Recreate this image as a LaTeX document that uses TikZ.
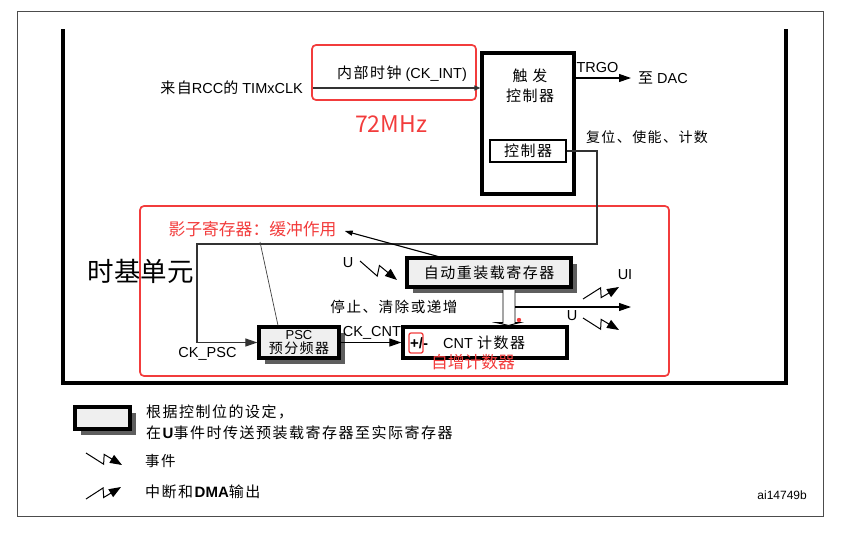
\documentclass[tikz,border=0pt]{standalone}
\usepackage{fontspec}
\setmainfont{Liberation Sans}
\newfontfamily\cjk[LetterSpace=10]{Noto Sans CJK SC}
\newfontfamily\cjkn{Noto Sans CJK SC}
\usetikzlibrary{arrows.meta,calc,shadows}
\definecolor{redmark}{HTML}{F23C3C}
\definecolor{shade}{HTML}{5E5E5E}
\definecolor{boxfill}{HTML}{EFEFEF}
\definecolor{linegray}{HTML}{333333}
\newcommand\sz[2]{\fontsize{#1}{#2}\selectfont}
\begin{document}
\begin{tikzpicture}[x=1pt,y=-1pt,
  regbox/.style={draw, line width=3.2pt, fill=boxfill, inner sep=0pt,
    drop shadow={shadow xshift=6pt, shadow yshift=-6pt, fill=shade, opacity=1}},
  plainbox/.style={draw, line width=3.2pt, fill=white, inner sep=0pt},
  redframe/.style={draw=redmark, line width=1.7pt, rounded corners=4pt},
  lbl/.style={inner sep=0pt, font=\sz{14.5}{17}},
  redlbl/.style={inner sep=0pt, text=redmark},
  conn/.style={draw=linegray, line width=1.1pt},
  arr/.style={conn, -{Triangle[length=12pt,width=8pt]}},
  bolt/.style={draw=black, line width=1pt, line join=miter, -{Triangle[length=12pt,width=9pt]}}]
\useasboundingbox (0,0) rectangle (841,536);

% outer frame and thick U frame
\draw[draw=black!70, line width=1pt] (17,11) rectangle (823,516);
\draw[line width=3.2pt, line join=miter] (63,29) -- (63,383) -- (786,383) -- (786,29);

% boxes
\node[plainbox, minimum width=92pt, minimum height=141pt] (trig) at (528,123.5) {};
\node[lbl, align=center, font=\sz{15}{20}] (trigtxt) at (530,86) {{\cjk 触 发}\\{\cjk 控制器}};
\node[plainbox, line width=2.6pt, minimum width=76pt, minimum height=22pt, font=\sz{15}{17}] (ctrl) at (528,151) {{\cjk 控制器}};
\node[regbox, minimum width=164pt, minimum height=29pt, font=\sz{15}{17}] (reload) at (489,272.5) {{\cjk 自动重装载寄存器}};
\node[plainbox, minimum width=164pt, minimum height=31pt] (cnt) at (485,342.5) {};
\node[regbox, minimum width=80pt, minimum height=31pt, align=center, font=\sz{13}{13.5}] (psc) at (299,342.5) {PSC\\{\cjk\sz{14}{13.5}预分频器}};
\node[regbox, minimum width=55pt, minimum height=22pt] (leg) at (102.5,418) {};

% text labels
\node[lbl, anchor=east] (timx) at (303,88) {{\cjk\sz{15}{17}来自}RCC{\cjk\sz{15}{17}的} TIMxCLK};
\node[lbl] (ckint) at (402,74) {{\cjk\sz{15}{17}内部时钟} (CK\_INT)};
\node[redlbl, font=\cjkn\sz{23}{26}] (mhz) at (391,124) {72MHz};
\node[lbl] (trgo) at (597.5,68) {TRGO};
\node[lbl, anchor=west] (dac) at (638,78) {{\cjk\sz{15}{17}至} DAC};
\node[lbl, font=\sz{14}{17}] (rst) at (647,137) {{\cjk 复位、使能、计数}};
\node[redlbl, font=\cjkn\sz{16.8}{20}] (shadowtxt) at (252.5,229) {影子寄存器：缓冲作用};
\node[inner sep=0pt, font=\cjkn\sz{26.5}{30}] (tb) at (140.5,271) {时基单元};
\node[lbl] (u1) at (348,263) {U};
\node[lbl, font=\sz{14.6}{17}] (stop) at (394,307) {{\cjk 停止、清除或递增}};
\node[lbl] (ui) at (625,275) {UI};
\node[lbl] (u2) at (572,316) {U};
\node[lbl] (ckpsc) at (207.5,354) {CK\_PSC};
\node[lbl] (ckcnt) at (372,333) {CK\_CNT};
\node[lbl, anchor=west, font=\bfseries\sz{15}{16}] (pm) at (410,343) {+/-};
\node[lbl, anchor=west] (cnttxt) at (443,343) {CNT {\cjk\sz{15}{17}计数器}};
\node[redlbl, font=\cjkn\sz{16.8}{20}] (inc) at (473,362) {自增计数器};
\node[lbl, anchor=west, align=left, font=\sz{15}{21}] (legtxt) at (146,422.5) {{\cjk 根据控制位的设定，}\\{\cjk 在}\textbf{U}{\cjk 事件时传送预装载寄存器至实际寄存器}};
\node[lbl, anchor=west, font=\sz{14.5}{17}] (evt) at (145,461) {{\cjk 事件}};
\node[lbl, anchor=west, font=\sz{15}{17}] (irq) at (145,492) {{\cjk 中断和}\textbf{DMA}{\cjk 输出}};
\node[lbl, anchor=east, font=\sz{12}{14}] (ai) at (807,495) {ai14749b};

% red annotation frames
\draw[redframe] (312,45) rectangle (476,100);
\draw[redframe] (140,206) rectangle (669,376);
\draw[draw=redmark, line width=1.3pt, rounded corners=2pt] (409,333) rectangle (423,353);

% connectors
\coordinate (clkin) at (313,88);
\draw[conn, -{Triangle[length=6pt,width=5pt]}] (clkin) -- (trig.west |- clkin);
\coordinate (dacend) at (631,78);
\draw[arr, draw=black] (trig.east |- dacend) -- (dacend);
\coordinate (c1) at (597,151);
\coordinate (c2) at (597,244);
\coordinate (c3) at (197,244);
\draw[arr] (ctrl.east) -- (c1) -- (c2) -- (c3) -- (c3 |- psc.west) -- (psc.west);
\draw[arr, draw=black] (psc.east) -- (cnt.west);

% hollow transfer arrow
\filldraw[draw=black, fill=white, line width=0.9pt, line join=miter]
  ($(reload.south)+(14,1.6)$) -- ($(reload.south)+(14,34)$) -- ($(reload.south)+(7,34)$)
  -- ($(cnt.north)+(23.5,0)$) -- ($(reload.south)+(31,34)$) -- ($(reload.south)+(26,34)$)
  -- ($(reload.south)+(26,1.6)$);
\coordinate (outstart) at (515,307);
\coordinate (outend) at (631,307);
\draw[arr, draw=black] (outstart) -- (outend);
\fill[redmark] (519,320) circle (2.2pt);

% shadow register annotations
\coordinate (rl) at (440,257);
\draw[line width=1.1pt, -{Triangle[length=8pt,width=5pt]}] (rl) -- ($(shadowtxt.east)+(8,2)$);
\coordinate (st) at (260,242);
\draw[line width=0.7pt, draw=black!75] (st) -- ($(psc.north)+(-21,0)$);

% lightning arrows
\coordinate (b1s) at (360,261); \coordinate (b1e) at (397,280);
\coordinate (b2s) at (583,299); \coordinate (b2e) at (619,287);
\coordinate (b3s) at (583,318); \coordinate (b3e) at (619,330);
\coordinate (b4s) at (86,453);  \coordinate (b4e) at (122,465);
\coordinate (b5s) at (86,499);  \coordinate (b5e) at (121,487);
\foreach \a/\b/\s in {b1s/b1e/-1, b2s/b2e/1, b3s/b3e/-1, b4s/b4e/-1, b5s/b5e/1}{
  \pgfmathsetmacro\angA{\s*14}
  \pgfmathsetmacro\angB{-\s*14}
  \draw[bolt] (\a) -- ($(\a)!0.55!\angA:(\b)$) -- ($(\a)!0.48!\angB:(\b)$) -- (\b);
}
\end{tikzpicture}
\end{document}
